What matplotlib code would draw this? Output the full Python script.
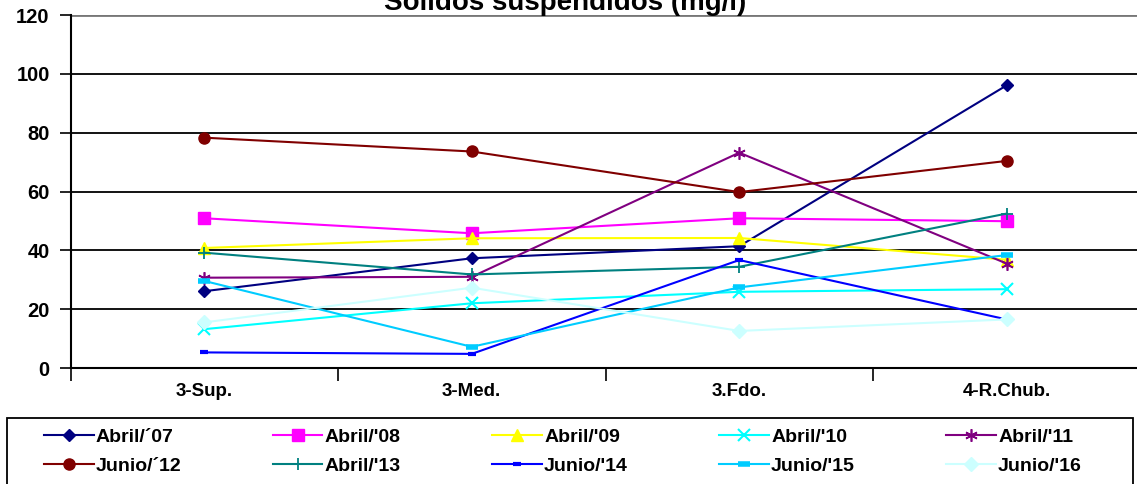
import matplotlib
matplotlib.use('Agg')
import matplotlib.pyplot as plt
from matplotlib.patches import Rectangle

# data
sites = ['3-Sup.', '3-Med.', '3.Fdo.', '4-R.Chub.']
series_names = ['Abril/´07', "Abril/'08", "Abril/'09", "Abril/'10", "Abril/'11",
                'Junio/´12', "Abril/'13", "Junio/'14", "Junio/'15", "Junio/'16"]
abril_07 = [26.1, 37.3, 41.4, 96.1]
abril_08 = [50.9, 45.8, 50.9, 49.9]
abril_09 = [40.8, 44.1, 44.2, 36.8]
abril_10 = [13.2, 22.0, 25.9, 26.8]
abril_11 = [30.7, 31.0, 73.2, 35.5]
junio_12 = [78.3, 73.6, 59.8, 70.4]
abril_13 = [39.2, 31.8, 34.4, 52.5]
junio_14 = [5.3, 4.8, 36.7, 16.5]
junio_15 = [29.6, 7.2, 27.4, 38.4]
junio_16 = [15.5, 27.3, 12.6, 16.5]
yticks = [0, 20, 40, 60, 80, 100, 120]

all_series = [abril_07, abril_08, abril_09, abril_10, abril_11,
              junio_12, abril_13, junio_14, junio_15, junio_16]
colors = ['#000080', '#FF00FF', '#FFFF00', '#00FFFF', '#800080',
          '#800000', '#008080', '#0000FF', '#00CCFF', '#CCFFFF']
markers = ['D', 's', '^', 'x', (6, 2, 0), 'o', '+', '_', '_', 'D']
msizes = [6, 8, 8, 8, 9, 8, 9, 6, 9, 7]
mews = [1, 1, 1, 1.5, 1.2, 1, 1.3, 3, 4, 1]

plt.rcParams['font.family'] = ['Liberation Sans', 'DejaVu Sans']
plt.rcParams['font.weight'] = 'bold'

W, H = 1137, 484
fig = plt.figure(figsize=(W / 100, H / 100), dpi=100)
ax = fig.add_axes([70.5 / W, (H - 368) / H, 1070 / W, (368 - 15) / H])

x = [i + 0.5 for i in range(len(sites))]
for vals, name, c, m, ms, mew in zip(all_series, series_names, colors,
                                     markers, msizes, mews):
    ax.plot(x, vals, color=c, marker=m, markersize=ms, markeredgewidth=mew,
            markerfacecolor=c, markeredgecolor=c, linewidth=1.5, label=name)

ax.set_ylim(0, 120)
ax.set_xlim(0, len(sites))
ax.set_yticks(yticks)
ax.set_yticklabels([str(v) for v in yticks], fontsize=14.5, fontweight='bold')
ax.set_xticks(range(len(sites) + 1))
ax.set_xticklabels([])
ax.set_xticks(x, minor=True)
ax.set_xticklabels(sites, minor=True, fontsize=13.5, fontweight='bold')
ax.tick_params(axis='x', which='minor', length=0, pad=11)
ax.tick_params(axis='x', which='major', length=9, width=1.2, direction='out')
ax.tick_params(axis='y', length=8, width=1.2, direction='out', pad=7)
for yv in yticks[1:-1]:
    ax.axhline(yv, color='black', linewidth=1.3, zorder=0)
ax.axhline(120, color='#777777', linewidth=2, zorder=0)
for s in ['top', 'right']:
    ax.spines[s].set_visible(False)
ax.spines['left'].set_linewidth(1.5)
ax.spines['bottom'].set_linewidth(1.5)

fig.text(0.497, 0.993, 'Sólidos suspendidos (mg/l)', ha='center', va='center',
         fontsize=20, fontweight='bold')

# legend frame runs off the bottom edge, as in the reference
fig.patches.append(Rectangle((7 / W, -0.05), 1126 / W, 0.05 + (H - 418) / H,
                             transform=fig.transFigure, fill=False,
                             edgecolor='black', linewidth=1.3))

# legend fills row by row in the reference
handles, labels = ax.get_legend_handles_labels()
ncol = 5
order = [r * ncol + c for c in range(ncol) for r in range(2)]
handles = [handles[i] for i in order]
labels = [labels[i] for i in order]
leg = fig.legend(handles, labels, ncol=ncol, loc='upper left',
                 bbox_to_anchor=(44 / W, 0, 1038 / W, 1 - 428 / H),
                 mode='expand', frameon=False, handlelength=2.55,
                 handletextpad=0.12, borderpad=0, labelspacing=0.62,
                 borderaxespad=0,
                 prop={'weight': 'bold', 'size': 14})

fig.savefig('out.png', dpi=100)
